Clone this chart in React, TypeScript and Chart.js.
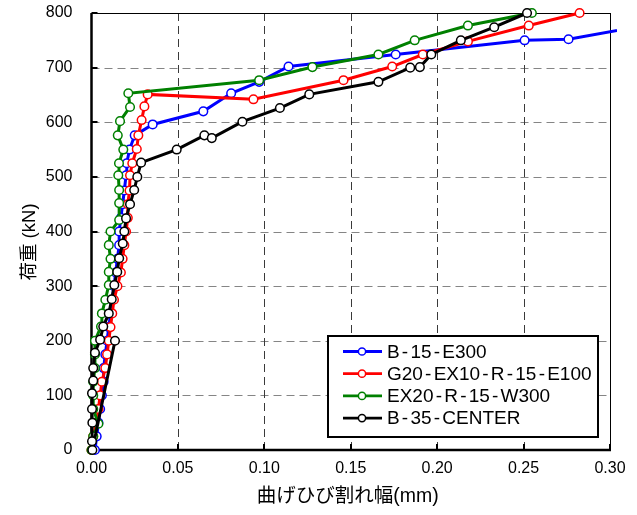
import React, { useEffect, useRef } from 'react';
import { Chart, registerables } from 'chart.js';

Chart.register(...registerables);

// ---- data ----
const loadTicks = [0, 100, 200, 300, 400, 500, 600, 700, 800];
const widthTicks = [0, 0.05, 0.1, 0.15, 0.2, 0.25, 0.3];
const xTitle = '曲げひび割れ幅(mm)';
const yTitle = '荷重 (kN)';

const seriesLabels = ['B-15-E300', 'G20-EX10-R-15-E100', 'EX20-R-15-W300', 'B-35-CENTER'];
const seriesColors = ['#0000FF', '#FF0000', '#008000', '#000000'];

// [crack width (mm), load (kN)]
const b15E300: [number, number][] = [
  [0.002, 0], [0.003, 25], [0.004, 50], [0.005, 75], [0.006, 100], [0.007, 125], [0.007, 150],
  [0.008, 175], [0.009, 200], [0.010, 225], [0.011, 250], [0.012, 275], [0.013, 300], [0.014, 325],
  [0.015, 350], [0.016, 375], [0.016, 400], [0.017, 425], [0.018, 450], [0.019, 475], [0.020, 503],
  [0.0204, 525], [0.022, 550], [0.025, 576], [0.0354, 596], [0.0647, 620], [0.0808, 653],
  [0.097, 674], [0.114, 702], [0.176, 724], [0.2506, 750], [0.276, 752], [0.36, 800],
];
const g20Ex10: [number, number][] = [
  [0.000, 0], [0.001, 25], [0.003, 50], [0.004, 75], [0.005, 100], [0.006, 125], [0.008, 150],
  [0.009, 175], [0.010, 200], [0.011, 225], [0.012, 250], [0.013, 275], [0.015, 300], [0.017, 325],
  [0.018, 350], [0.019, 375], [0.020, 400], [0.021, 425], [0.021, 450], [0.022, 475], [0.0223, 503],
  [0.0236, 525], [0.0262, 551], [0.0271, 576], [0.029, 604], [0.0306, 629], [0.0325, 651],
  [0.0937, 642], [0.1458, 677], [0.174, 702], [0.1917, 724], [0.2178, 748], [0.253, 777], [0.2824, 800],
];
const ex20W300: [number, number][] = [
  [0.000, 0], [0.001, 25], [0.004, 48], [0.001, 75], [0.001, 100], [0.001, 125], [0.002, 150],
  [0.002, 175], [0.002, 200], [0.0055, 226], [0.006, 250], [0.008, 275], [0.010, 302], [0.010, 326],
  [0.011, 350], [0.010, 375], [0.011, 400], [0.016, 421], [0.016, 452], [0.016, 476], [0.0155, 503],
  [0.0159, 525], [0.0184, 550], [0.0152, 576], [0.0165, 602], [0.0223, 628], [0.0213, 653],
  [0.097, 677], [0.1278, 701], [0.166, 724], [0.187, 750], [0.2178, 777], [0.2548, 800],
];
const b35Center: [number, number][] = [
  [0.0136, 200], [0.0005, 0], [0.0003, 16], [0.0005, 50], [0.0003, 75], [0.0003, 104], [0.001, 127],
  [0.001, 150], [0.002, 178], [0.005, 202], [0.0068, 226], [0.010, 250], [0.0117, 276], [0.0132, 302],
  [0.0149, 326], [0.016, 351], [0.0181, 378], [0.019, 400], [0.020, 424], [0.0223, 450], [0.0247, 476],
  [0.0265, 500], [0.0287, 526], [0.0493, 550], [0.0653, 576], [0.0696, 571], [0.0873, 601],
  [0.109, 626], [0.126, 651], [0.166, 674], [0.1844, 700], [0.19, 701], [0.1966, 724], [0.2137, 750],
  [0.233, 774], [0.252, 800],
];
const allSeries = [b15E300, g20Ex10, ex20W300, b35Center];

const FONT = '"Liberation Sans", "Noto Sans CJK JP", sans-serif';

const framePlugin = {
  id: 'frame',
  beforeDatasetsDraw(chart: any) {
    const { ctx, chartArea: a } = chart;
    const x = chart.scales.x;
    const y = chart.scales.y;
    const line = (x1: number, y1: number, x2: number, y2: number) => {
      ctx.beginPath();
      ctx.moveTo(x1, y1);
      ctx.lineTo(x2, y2);
      ctx.stroke();
    };
    ctx.save();
    ctx.lineWidth = 1;
    ctx.setLineDash([8, 5]);
    ctx.strokeStyle = '#858585';
    loadTicks.forEach((v) => {
      if (v === loadTicks[0] || v === loadTicks[loadTicks.length - 1]) return;
      const py = Math.round(y.getPixelForValue(v)) + 0.5;
      line(a.left, py, a.right, py);
    });
    ctx.strokeStyle = '#3a3a3a';
    widthTicks.forEach((v) => {
      if (v === widthTicks[0] || v === widthTicks[widthTicks.length - 1]) return;
      const px = Math.round(x.getPixelForValue(v)) + 0.5;
      line(px, a.top, px, a.bottom);
    });
    ctx.setLineDash([]);
    ctx.strokeStyle = '#000';
    ctx.lineWidth = 2;
    loadTicks.forEach((v) => {
      const py = Math.round(y.getPixelForValue(v));
      line(a.left, py, a.left + 6, py);
    });
    widthTicks.forEach((v) => {
      const px = Math.round(x.getPixelForValue(v));
      line(px, a.bottom, px, a.bottom - 6);
    });
    ctx.lineWidth = 1;
    line(a.left, a.top + 0.5, a.right, a.top + 0.5);
    line(a.right + 0.5, a.top, a.right + 0.5, a.bottom);
    ctx.lineWidth = 2.5;
    line(a.left, a.top, a.left, a.bottom + 1.2);
    line(a.left - 1.2, a.bottom, a.right + 1, a.bottom);
    ctx.restore();
  },
  afterDraw(chart: any) {
    const { ctx, chartArea: a } = chart;
    ctx.save();
    ctx.fillStyle = '#000';
    ctx.font = `19.5px ${FONT}`;
    ctx.textAlign = 'center';
    ctx.textBaseline = 'middle';
    ctx.fillText(xTitle, (a.left + a.right) / 2 - 3, 497);
    ctx.font = `18.5px ${FONT}`;
    ctx.translate(30, 242);
    ctx.rotate(-Math.PI / 2);
    ctx.fillText(yTitle, 0, 0);
    ctx.restore();

    // legend box
    ctx.save();
    const bx = 328, by = 336, bw = 270, bh = 101;
    ctx.fillStyle = '#fff';
    ctx.fillRect(bx, by, bw, bh);
    ctx.strokeStyle = '#000';
    ctx.lineWidth = 2;
    ctx.strokeRect(bx, by, bw, bh);
    ctx.font = `19px ${FONT}`;
    ctx.textBaseline = 'middle';
    ctx.textAlign = 'left';
    chart.data.datasets.forEach((ds: any, i: number) => {
      const ry = 351.5 + i * 22.2;
      ctx.strokeStyle = ds.borderColor;
      ctx.lineWidth = 2.8;
      ctx.beginPath();
      ctx.moveTo(343, ry);
      ctx.lineTo(382, ry);
      ctx.stroke();
      ctx.beginPath();
      ctx.arc(362, ry, 3.6, 0, Math.PI * 2);
      ctx.fillStyle = '#fff';
      ctx.fill();
      ctx.lineWidth = 1.5;
      ctx.stroke();
      ctx.fillStyle = '#000';
      let tx = 387;
      for (const ch of String(ds.label)) {
        if (ch === '-') tx += 2.2;
        ctx.fillText(ch, tx, ry + 1);
        tx += ctx.measureText(ch).width;
        if (ch === '-') tx += 2.2;
      }
    });
    ctx.restore();
  },
};

export default function App() {
  const ref = useRef<HTMLCanvasElement | null>(null);
  useEffect(() => {
    document.body.style.margin = '0';
    if (!ref.current) return;
    const chart = new Chart(ref.current, {
      type: 'scatter',
      data: {
        datasets: allSeries.map((s, i) => ({
          label: seriesLabels[i],
          data: s.map(([w, p]) => ({ x: w, y: p })),
          showLine: true,
          borderColor: seriesColors[i],
          backgroundColor: '#fff',
          borderWidth: 3,
          pointRadius: 4.3,
          pointBorderWidth: 1.5,
          pointBackgroundColor: '#fff',
          pointBorderColor: seriesColors[i],
          order: allSeries.length - i,
          clip: { left: 10, top: 10, right: 7, bottom: 10 },
        })),
      },
      options: {
        responsive: false,
        devicePixelRatio: 1,
        animation: false,
        layout: { padding: { top: 13, right: 27, left: 0, bottom: 0 }, autoPadding: false },
        plugins: { legend: { display: false }, tooltip: { enabled: false }, title: { display: false } },
        scales: {
          x: {
            type: 'linear',
            min: widthTicks[0],
            max: widthTicks[widthTicks.length - 1],
            grid: { display: false, drawTicks: false },
            border: { display: false },
            afterFit: (s: any) => { s.height = 65; s.paddingLeft = 0; s.paddingRight = 20; },
            afterBuildTicks: (s: any) => { s.ticks = widthTicks.map((v) => ({ value: v })); },
            ticks: {
              autoSkip: false,
              maxRotation: 0,
              padding: 9,
              color: '#000',
              font: { family: FONT, size: 16 },
              callback: (v: any) => Number(v).toFixed(2),
            },
          },
          y: {
            type: 'linear',
            min: loadTicks[0],
            max: loadTicks[loadTicks.length - 1],
            grid: { display: false, drawTicks: false },
            border: { display: false },
            afterFit: (s: any) => { s.width = 91.5; s.paddingTop = 10; s.paddingBottom = 0; },
            afterBuildTicks: (s: any) => { s.ticks = loadTicks.map((v) => ({ value: v })); },
            ticks: {
              autoSkip: false,
              padding: 19,
              color: '#000',
              font: { family: FONT, size: 16 },
              callback: (v: any) => String(v),
            },
          },
        },
      },
      plugins: [framePlugin],
    } as any);
    return () => chart.destroy();
  }, []);
  return (
    <div style={{ width: 637, height: 515 }}>
      <canvas ref={ref} width={637} height={515} style={{ display: 'block' }} />
    </div>
  );
}
